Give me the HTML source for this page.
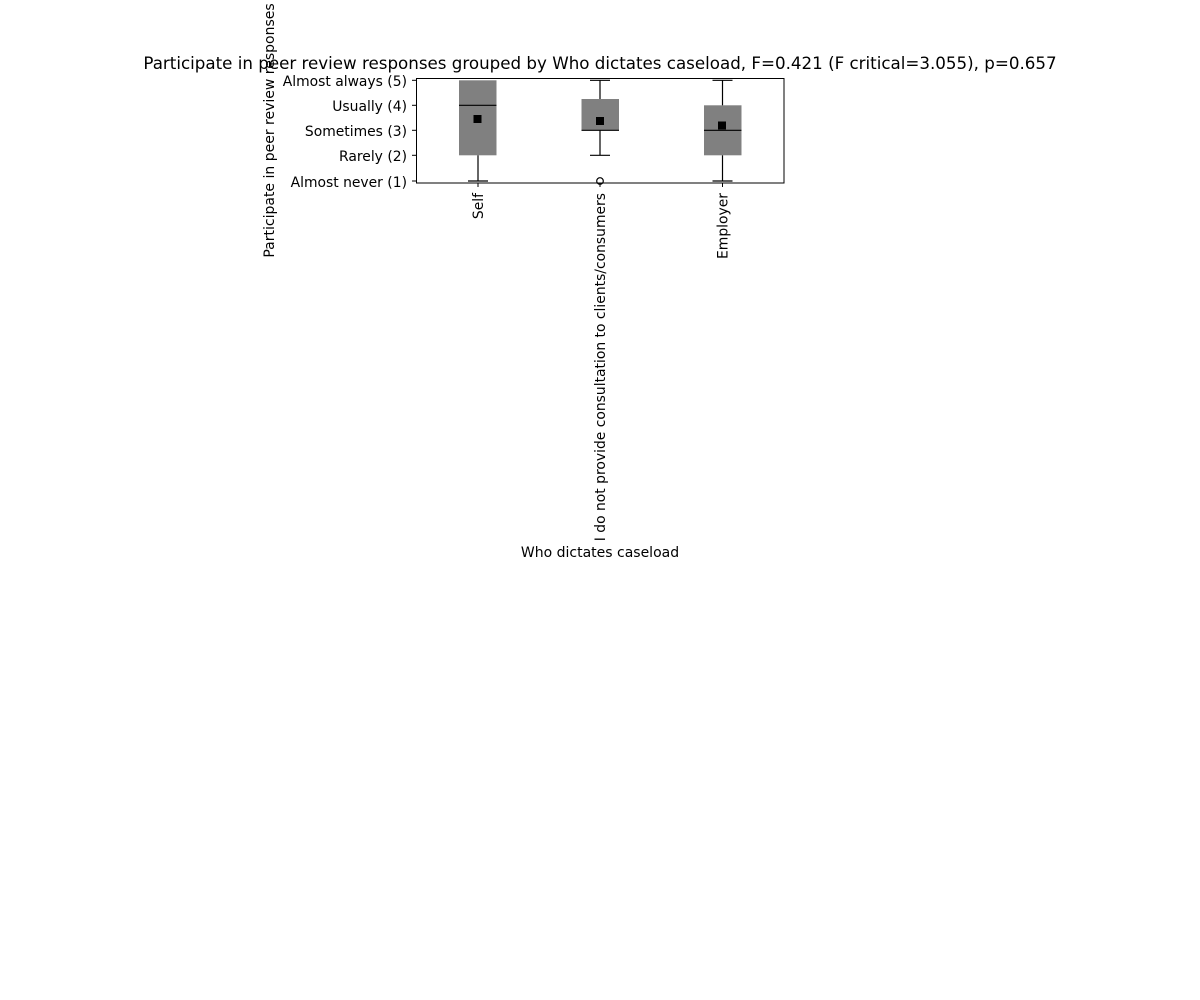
<!DOCTYPE html>
<html><head><meta charset="utf-8"><style>body{margin:0;background:#fff}svg{display:block}text{font-family:"DejaVu Sans","Liberation Sans",sans-serif}</style></head>
<body>
<svg width="1200" height="1000" xmlns="http://www.w3.org/2000/svg">
<rect width="1200" height="1000" fill="#fff"/>
<text x="600" y="69" font-size="16.7" text-anchor="middle">Participate in peer review responses grouped by Who dictates caseload, F=0.421 (F critical=3.055), p=0.657</text>
<rect x="459" y="80.3" width="37.5" height="75" fill="#808080"/>
<line x1="459" x2="496.5" y1="105.3" y2="105.3" stroke="#000" stroke-width="1.2"/>
<line x1="478" x2="478" y1="155.3" y2="181" stroke="#000" stroke-width="1.2"/>
<line x1="468" x2="488" y1="181" y2="181" stroke="#000" stroke-width="1.2"/>
<rect x="473.5" y="115" width="8" height="8" fill="#000"/>

<rect x="581.5" y="99" width="37.5" height="31.3" fill="#808080"/>
<line x1="581.5" x2="619" y1="130.3" y2="130.3" stroke="#000" stroke-width="1.2"/>
<line x1="600" x2="600" y1="80.3" y2="99" stroke="#000" stroke-width="1.2"/>
<line x1="590" x2="610" y1="80.3" y2="80.3" stroke="#000" stroke-width="1.2"/>
<line x1="600" x2="600" y1="130.3" y2="155.3" stroke="#000" stroke-width="1.2"/>
<line x1="590" x2="610" y1="155.3" y2="155.3" stroke="#000" stroke-width="1.2"/>
<rect x="596" y="117" width="8" height="8" fill="#000"/>
<circle cx="600" cy="181" r="3.3" fill="none" stroke="#000" stroke-width="1.2"/>

<rect x="704" y="105.3" width="37.5" height="50" fill="#808080"/>
<line x1="704" x2="741.5" y1="130.3" y2="130.3" stroke="#000" stroke-width="1.2"/>
<line x1="722.5" x2="722.5" y1="80.3" y2="105.3" stroke="#000" stroke-width="1.2"/>
<line x1="712.5" x2="732.5" y1="80.3" y2="80.3" stroke="#000" stroke-width="1.2"/>
<line x1="722.5" x2="722.5" y1="155.3" y2="181" stroke="#000" stroke-width="1.2"/>
<line x1="712.5" x2="732.5" y1="181" y2="181" stroke="#000" stroke-width="1.2"/>
<rect x="718" y="121.5" width="8" height="8" fill="#000"/>

<rect x="416.5" y="78.5" width="367.5" height="104.5" fill="none" stroke="#000" stroke-width="1"/>
<g stroke="#000" stroke-width="1">
<line x1="412" x2="416" y1="80.3" y2="80.3"/><line x1="412" x2="416" y1="105.3" y2="105.3"/><line x1="412" x2="416" y1="130.3" y2="130.3"/><line x1="412" x2="416" y1="155.3" y2="155.3"/><line x1="412" x2="416" y1="181" y2="181"/>
<line x1="478" x2="478" y1="183" y2="187"/><line x1="600" x2="600" y1="183" y2="187"/><line x1="722.5" x2="722.5" y1="183" y2="187"/>
</g>
<g font-size="13.9" text-anchor="end">
<text x="407" y="86">Almost always (5)</text>
<text x="407" y="111">Usually (4)</text>
<text x="407" y="136">Sometimes (3)</text>
<text x="407" y="161">Rarely (2)</text>
<text x="407" y="187">Almost never (1)</text>
</g>
<g font-size="13.9" text-anchor="end">
<text transform="translate(483,193) rotate(-90)">Self</text>
<text transform="translate(605,193) rotate(-90)">I do not provide consultation to clients/consumers</text>
<text transform="translate(727.5,193) rotate(-90)">Employer</text>
</g>
<text x="600" y="557" font-size="14" text-anchor="middle">Who dictates caseload</text>
<text transform="translate(274,130.5) rotate(-90)" font-size="14" text-anchor="middle">Participate in peer review responses</text>
</svg>
</body></html>
